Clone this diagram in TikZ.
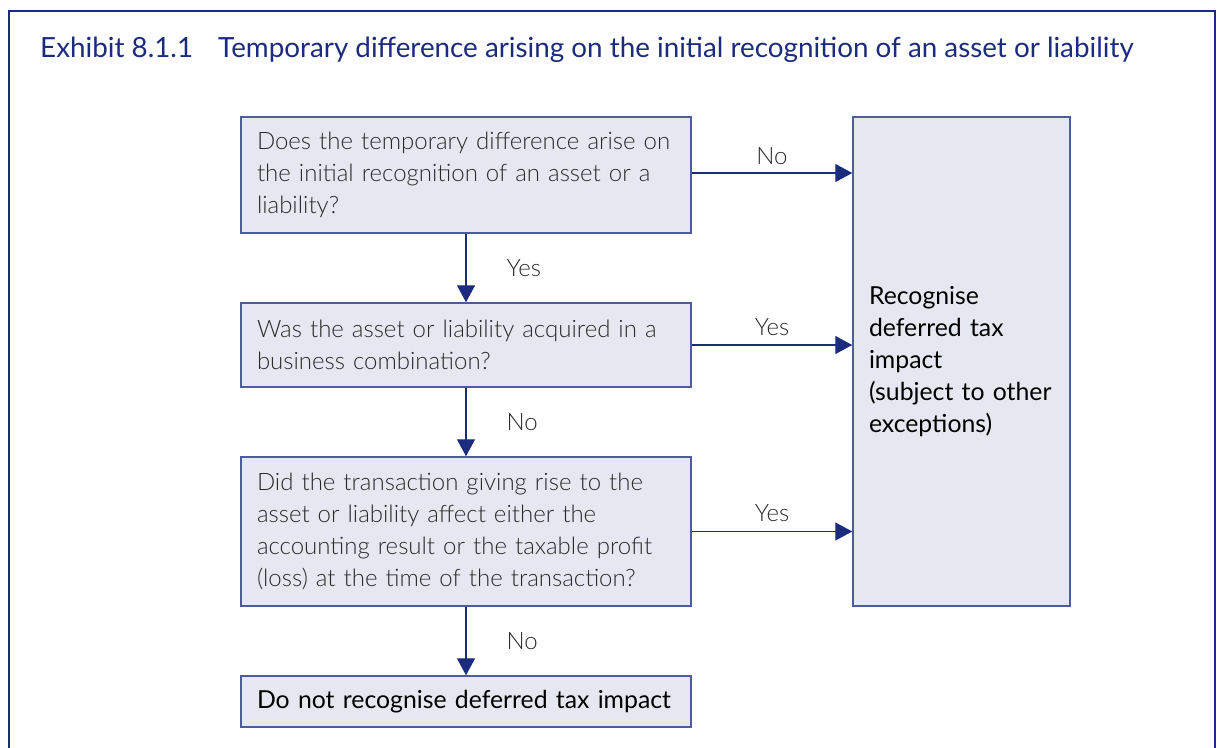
\documentclass[tikz,border=0pt]{standalone}
\usepackage{fontspec}
\setmainfont{Lato}
\newfontfamily\lightfont{Lato Light}
\usetikzlibrary{arrows.meta}
\definecolor{navy}{HTML}{1B2C7E}
\definecolor{boxfill}{HTML}{E5E8F0}
\definecolor{boxedge}{HTML}{4C5C9C}
\definecolor{bodytext}{HTML}{2A2A2A}
\begin{document}
\begin{tikzpicture}[x=1pt,y=-1pt,
  qbox/.style={draw=boxedge, line width=1.5pt, fill=boxfill, text width=418pt,
    align=left, inner xsep=16pt, inner ysep=0pt, text=bodytext,
    font=\lightfont\fontsize{24}{32}\selectfont},
  abox/.style={qbox, text=black, font=\fontsize{24.8}{32}\selectfont},
  flow/.style={draw=navy, line width=1.4pt, -{Triangle[length=17pt,width=18pt]}},
  lbl/.style={text=bodytext, font=\lightfont\fontsize{24}{28}\selectfont, inner sep=0pt},
  ttl/.style={anchor=base west, text=navy, inner sep=0pt, font=\fontsize{27.8}{32}\selectfont}]
\useasboundingbox (0,0) rectangle (1220,747);
% outer frame, open at the bottom
\draw[navy, line width=2.5pt] (9,760) -- (9,11) -- (1215,11) -- (1215,760);
% heading
\node[ttl] (num) at (40,57) {Exhibit 8.1.1};
\node[ttl] (head) at (218,57) {Temporary difference arising on the initial recognition of an asset or liability};
% decision boxes
\node[qbox, minimum height=116pt] (q1) at (466,175) {Does the temporary difference arise on\\the initial recognition of an asset or a\\liability?};
\node[qbox, minimum height=84pt] (q2) at (466,345) {Was the asset or liability acquired in a\\business combination?};
\node[qbox, minimum height=149pt] (q3) at (466,531.5) {Did the transaction giving rise to the\\asset or liability affect either the\\accounting result or the taxable profit\\(loss) at the time of the transaction?};
\node[abox, minimum height=51pt] (no) at (466,701.5) {Do not recognise deferred tax impact};
% outcome box on the right
\node[abox, text width=185pt, minimum height=489pt] (rec) at (961.5,361.5) {Recognise\\deferred tax\\impact\\(subject to other\\exceptions)};
% connectors
\draw[flow] (q1.south) -- node[lbl, anchor=west, xshift=40pt] {Yes} (q2.north);
\draw[flow] (q2.south) -- node[lbl, anchor=west, xshift=40pt] {No} (q3.north);
\draw[flow] (q3.south) -- node[lbl, anchor=west, xshift=40pt] {No} (no.north);
\draw[flow] ([yshift=2pt]q1.east) -- node[lbl, yshift=17pt] {No} ([yshift=2pt]q1.east -| rec.west);
\draw[flow] (q2.east) -- node[lbl, yshift=18pt] {Yes} (q2.east -| rec.west);
\draw[flow] (q3.east) -- node[lbl, yshift=18pt] {Yes} (q3.east -| rec.west);
\end{tikzpicture}
\end{document}
